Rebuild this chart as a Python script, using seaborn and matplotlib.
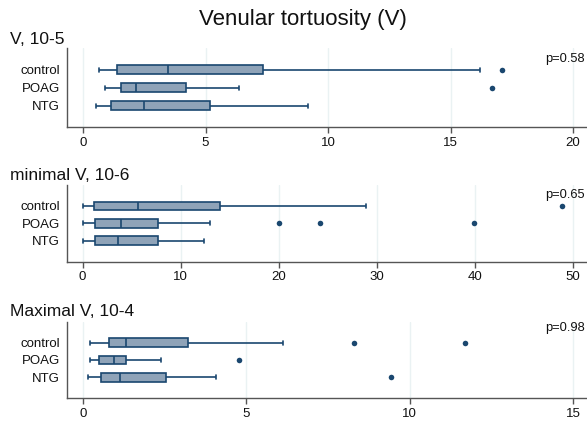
import numpy as np
import pandas as pd
import matplotlib
matplotlib.use("Agg")
import matplotlib.pyplot as plt
import seaborn as sns

groups = ["control", "POAG", "NTG"]

# five-number summaries per group: [low whisker, Q1, median, Q3, high whisker]
p1_stats = {"control": [0.65, 1.39, 3.47, 7.35, 16.2],
            "POAG": [0.9, 1.55, 2.16, 4.2, 6.37],
            "NTG": [0.53, 1.14, 2.49, 5.18, 9.18]}
p1_out = {"control": [17.09], "POAG": [16.7], "NTG": []}

p2_stats = {"control": [0.03, 1.2, 5.6, 14.05, 28.9],
            "POAG": [0.0, 1.3, 3.95, 7.65, 13.0],
            "NTG": [0.0, 1.25, 3.6, 7.65, 12.4]}
p2_out = {"control": [48.9], "POAG": [20.0, 24.2, 39.9], "NTG": []}

p3_stats = {"control": [0.23, 0.82, 1.31, 3.22, 6.13],
            "POAG": [0.21, 0.51, 0.95, 1.32, 2.4],
            "NTG": [0.16, 0.57, 1.15, 2.55, 4.08]}
p3_out = {"control": [8.3, 11.7], "POAG": [4.77], "NTG": [9.43]}

titles = ["V, 10-5", "minimal V, 10-6", "Maximal V, 10-4"]
pvals = ["p=0.58", "p=0.65", "p=0.98"]
xticks = [[0, 5, 10, 15, 20], [0, 10, 20, 30, 40, 50], [0, 5, 10, 15]]
xlims = [(-0.653, 20.57), (-1.6, 51.46), (-0.48, 15.43)]

sns.set_theme(style="white")
plt.rcParams['font.family'] = ['Liberation Sans', 'DejaVu Sans']

W, H = 587, 424
fig = plt.figure(figsize=(W / 100, H / 100), dpi=100)

navy = "#1a476f"
fill = "#8fa3b8"
# axes boxes in pixels: (top, bottom)
ax_pix = [(48.3, 127.3), (185.0, 261.7), (321.7, 398.3)]
sub_y = [39, 175, 311.5]
p_y = [59, 195, 328]

panels = [(p1_stats, p1_out), (p2_stats, p2_out), (p3_stats, p3_out)]
extra = 0.02

for i, (stats, outs) in enumerate(panels):
    top, bot = ax_pix[i]
    wfrac = (W - 67) / W
    ax = fig.add_axes([67 / W, 1 - bot / H, wfrac + extra, (bot - top) / H])
    rows = []
    for g in groups:
        for v in stats[g]:
            rows.append({"group": g, "value": v})
    df = pd.DataFrame(rows)
    orow = []
    for g in groups:
        for v in outs[g]:
            orow.append({"group": g, "value": v})
    dfo = pd.DataFrame(orow, columns=["group", "value"])

    sns.boxplot(data=df, x="value", y="group", order=groups, whis=(0, 100),
                width=0.5, color=fill, linecolor=navy, linewidth=1.2,
                saturation=1, ax=ax, capwidths=0.22,
                boxprops=dict(facecolor=fill, edgecolor=navy),
                medianprops=dict(color=navy, linewidth=1.2),
                whiskerprops=dict(color=navy), capprops=dict(color=navy))
    sns.stripplot(data=dfo, x="value", y="group", order=groups, jitter=False,
                  color=navy, size=4, ax=ax, linewidth=0)

    x0, x1 = xlims[i]
    ax.set_xlim(x0, x0 + (x1 - x0) * (wfrac + extra) / wfrac)
    ax.set_ylim(2 + 1.2, -1.2)
    ax.set_xticks(xticks[i])
    ax.set_xlabel("")
    ax.set_ylabel("")
    for x in xticks[i]:
        ax.axvline(x, color="#eaf2f3", lw=1, zorder=0)
    for s in ["top", "right"]:
        ax.spines[s].set_visible(False)
    for s in ["left", "bottom"]:
        ax.spines[s].set_color("#555555")
        ax.spines[s].set_linewidth(1.0)
    ax.tick_params(axis="x", which="both", bottom=True, length=4, width=1,
                   color="#555555", labelsize=9.5, pad=3, labelcolor="#111111")
    ax.tick_params(axis="y", left=False, length=0, labelsize=9.5, pad=5,
                   labelcolor="#111111")
    fig.text(10 / W, 1 - sub_y[i] / H, titles[i], fontsize=12.5, ha="left",
             va="center", color="#111111")
    fig.text(585 / W, 1 - p_y[i] / H, pvals[i], fontsize=9.3, ha="right",
             va="center", color="#111111")

fig.text(303 / W, 1 - 19 / H, "Venular tortuosity (V)", fontsize=16,
         ha="center", va="center", color="#111111")

fig.savefig("out.png", dpi=100)
